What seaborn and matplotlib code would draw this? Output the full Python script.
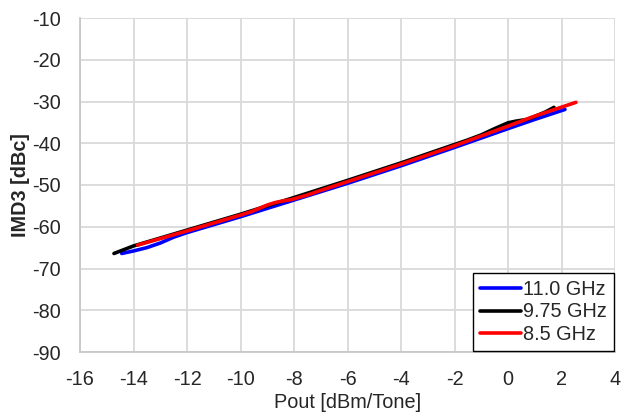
import numpy as np
import pandas as pd
import matplotlib
matplotlib.use("Agg")
import matplotlib.pyplot as plt
import seaborn as sns
from matplotlib.lines import Line2D

# ---- data ----
series_names = ["11.0 GHz", "9.75 GHz", "8.5 GHz"]
series_colors = ["#0000ff", "#000000", "#ff0000"]

x_110 = [-14.44, -14.0, -13.5, -13.0, -12.5, -12.0, -10.0, -8.0, -6.0, -4.0, -2.0, 0.0, 1.0, 2.13]
y_110 = [-66.4, -65.8, -65.0, -63.9, -62.5, -61.4, -57.6, -53.6, -49.6, -45.4, -41.0, -36.5, -34.3, -31.9]

x_975 = [-14.73, -14.0, -13.0, -12.0, -10.0, -8.0, -6.0, -4.0, -2.0, -1.5, -1.0, -0.5, 0.0, 0.3, 0.7, 1.0, 1.4, 1.72]
y_975 = [-66.4, -64.6, -62.7, -60.8, -57.0, -53.0, -48.9, -44.7, -40.3, -39.2, -38.0, -36.5, -35.1, -34.7, -34.3, -33.6, -32.5, -31.4]

x_85 = [-13.85, -12.0, -10.0, -9.6, -9.3, -9.0, -8.7, -8.4, -8.1, -7.5, -7.0, -6.0, -4.0, -2.0, 0.0, 1.0, 2.54]
y_85 = [-64.4, -61.0, -57.2, -56.4, -55.6, -54.8, -54.2, -53.8, -53.5, -52.4, -51.3, -49.2, -45.0, -40.6, -35.9, -33.5, -30.2]

x_ticks = [-16, -14, -12, -10, -8, -6, -4, -2, 0, 2, 4]
y_ticks = [-90, -80, -70, -60, -50, -40, -30, -20, -10]
x_label = "Pout [dBm/Tone]"
y_label = "IMD3 [dBc]"

frames = []
for name, xs, ys in zip(series_names, [x_110, x_975, x_85], [y_110, y_975, y_85]):
    frames.append(pd.DataFrame({"Pout": xs, "IMD3": ys, "Freq": name}))
df = pd.concat(frames, ignore_index=True)

sns.set_style("white")
plt.rcParams["font.family"] = ["Liberation Sans", "DejaVu Sans"]
plt.rcParams["lines.solid_joinstyle"] = "round"
plt.rcParams["lines.solid_capstyle"] = "round"

fig = plt.figure(figsize=(6.22, 4.18), dpi=100)
ax = fig.add_axes([80 / 622, 1 - 352 / 418, (615 - 80) / 622, (352 - 18) / 418])

sns.lineplot(data=df, x="Pout", y="IMD3", hue="Freq", hue_order=series_names,
             palette=dict(zip(series_names, series_colors)), sort=False,
             estimator=None, linewidth=2.6, ax=ax, legend=False)

FS = 14.3
ax.set_xlim(-16, 4)
ax.set_ylim(-90, -10)
ax.set_xticks(x_ticks)
ax.set_yticks(y_ticks)
ax.set_xticklabels([str(t) for t in x_ticks], fontsize=FS)
ax.set_yticklabels([str(t) for t in y_ticks], fontsize=FS)
ax.tick_params(axis="both", length=0)
ax.tick_params(axis="x", pad=13)
ax.tick_params(axis="y", pad=14)
ax.set_xlabel(x_label, fontsize=FS, labelpad=3)
ax.set_ylabel(y_label, fontsize=FS, fontweight="bold", labelpad=1)

ax.grid(True, color="#d9d9d9", linewidth=1.3)
ax.set_axisbelow(True)
for s in ["top", "right"]:
    ax.spines[s].set_visible(False)
for s in ["left", "bottom"]:
    ax.spines[s].set_color("#c8c8c8")
    ax.spines[s].set_linewidth(1.3)

handles = [Line2D([0], [0], color=c, lw=2.6) for c in series_colors]
leg = ax.legend(handles, series_names, loc="lower right", fontsize=FS,
                frameon=True, fancybox=False, framealpha=1, edgecolor="black",
                borderpad=0.35, borderaxespad=0.05, handlelength=2.1,
                handletextpad=0.1, labelspacing=0.18)
leg.get_frame().set_linewidth(1.0)

fig.savefig("out.png", dpi=100)
